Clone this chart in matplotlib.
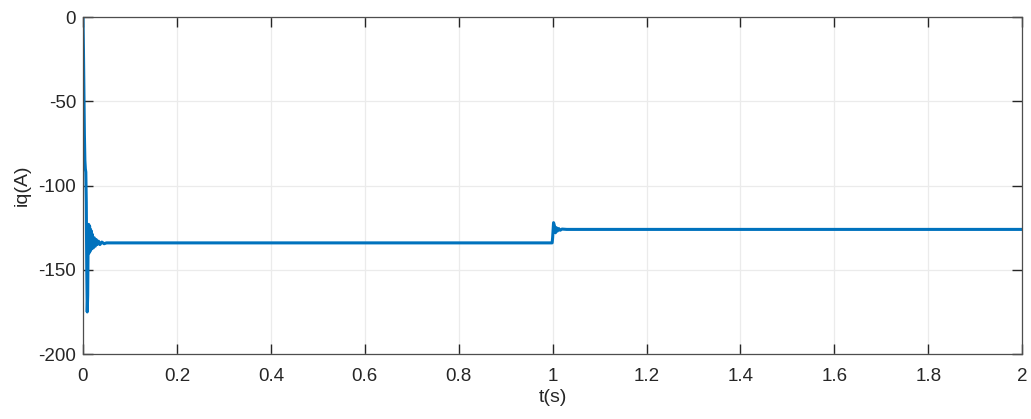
import matplotlib.pyplot as plt

# values
t = [0, 0.001, 0.002, 0.003, 0.004, 0.005, 0.006, 0.007, 0.008, 0.009,
     0.010, 0.011, 0.012, 0.013, 0.014, 0.015, 0.016, 0.017, 0.018, 0.019,
     0.020, 0.022, 0.024, 0.026, 0.028, 0.030, 0.033, 0.036, 0.040, 0.045,
     0.05, 0.3, 0.6, 0.9, 0.999,
     1.000, 1.002, 1.004, 1.006, 1.008, 1.010, 1.013, 1.016, 1.020,
     1.03, 1.3, 1.6, 2.0]
iq = [0, -20, -45, -70, -85, -90, -92, -110, -150, -175,
      -165, -130, -123, -140, -124, -139, -126, -138, -127, -137,
      -129, -137, -131, -136, -132, -135, -133, -135, -133.5, -134.5,
      -134, -134, -134, -134, -134,
      -131, -122, -124, -128, -125, -127, -125.5, -126.5, -125.8,
      -126, -126, -126, -126]

x_ticks = [0, 0.2, 0.4, 0.6, 0.8, 1.0, 1.2, 1.4, 1.6, 1.8, 2.0]
x_labels = ["0", "0.2", "0.4", "0.6", "0.8", "1", "1.2", "1.4", "1.6", "1.8", "2"]
y_ticks = [-200, -150, -100, -50, 0]

plt.rcParams["font.family"] = ["Liberation Sans", "DejaVu Sans"]
plt.rcParams["axes.unicode_minus"] = False

fig = plt.figure(figsize=(10.31, 4.19), dpi=100)
ax = fig.add_axes([0.0805, 0.155, 0.911, 0.804])

ax.plot(t, iq, color="#0072BD", linewidth=2.2)

ax.set_xlim(0, 2)
ax.set_ylim(-200, 0)
ax.set_xticks(x_ticks)
ax.set_xticklabels(x_labels)
ax.set_yticks(y_ticks)

ax.grid(True, color="#ebebeb", linewidth=0.9)
ax.set_axisbelow(True)

ax.tick_params(direction="in", length=7, width=1.0, colors="#262626",
               labelsize=13.5, top=True, right=True)
ax.tick_params(axis="x", pad=10)
ax.tick_params(axis="y", pad=5)
for side in ["top", "right", "bottom", "left"]:
    ax.spines[side].set_color("#4d4d4d")
    ax.spines[side].set_linewidth(0.9)

ax.set_xlabel("t(s)", fontsize=14, color="#262626", labelpad=3)
ax.set_ylabel("iq(A)", fontsize=14, color="#262626", labelpad=5)

plt.savefig("out.png", dpi=100)
